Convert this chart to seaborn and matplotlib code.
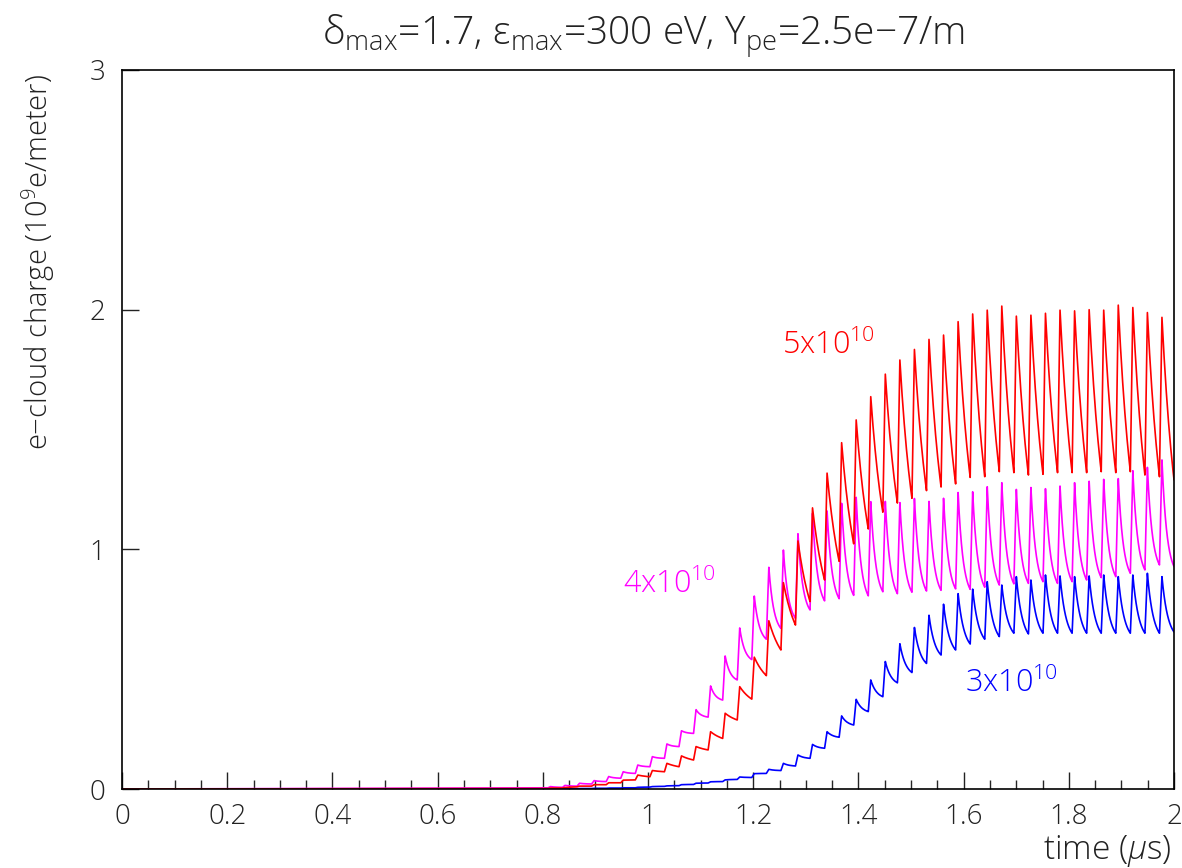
import numpy as np
import pandas as pd
import matplotlib
matplotlib.use("Agg")
import matplotlib.pyplot as plt
import seaborn as sns
from matplotlib.ticker import MultipleLocator, FuncFormatter

# bunch train: first stored bunch index, bunch time of bunch 0 and spacing (us)
first_bunch = 29
t_first = 0.0118
bunch_dt = 0.02768

# peak value right after each bunch passage and trough value just before it (1e9 e/m)
red_peaks = [0.004, 0.006, 0.012, 0.018, 0.026, 0.037, 0.058, 0.077, 0.107, 0.138,
             0.177, 0.239, 0.316, 0.427, 0.550, 0.702, 0.861, 1.035, 1.173, 1.318,
             1.445, 1.540, 1.637, 1.731, 1.790, 1.834, 1.876, 1.894, 1.950, 1.982,
             1.998, 2.015, 1.973, 1.977, 1.985, 1.998, 1.995, 2.000, 1.998, 2.019,
             2.009, 1.988, 1.968]
red_troughs = [0.002, 0.004, 0.009, 0.012, 0.018, 0.026, 0.038, 0.051, 0.072, 0.093,
               0.121, 0.163, 0.211, 0.288, 0.375, 0.473, 0.580, 0.684, 0.782, 0.872,
               0.950, 1.023, 1.085, 1.155, 1.193, 1.213, 1.245, 1.260, 1.273, 1.300,
               1.303, 1.324, 1.320, 1.310, 1.313, 1.320, 1.320, 1.320, 1.324, 1.320,
               1.324, 1.310, 1.303, 1.290]

mag_peaks = [0.010, 0.015, 0.024, 0.035, 0.052, 0.072, 0.100, 0.135, 0.188, 0.243,
             0.331, 0.430, 0.555, 0.672, 0.805, 0.925, 0.997, 1.065, 1.150, 1.160,
             1.192, 1.217, 1.199, 1.200, 1.195, 1.212, 1.200, 1.213, 1.237, 1.240,
             1.261, 1.278, 1.250, 1.258, 1.253, 1.264, 1.278, 1.284, 1.292, 1.295,
             1.328, 1.342, 1.373]
mag_troughs = [0.005, 0.007, 0.012, 0.021, 0.031, 0.045, 0.065, 0.093, 0.128, 0.177,
               0.232, 0.300, 0.371, 0.455, 0.540, 0.625, 0.670, 0.712, 0.747, 0.785,
               0.794, 0.808, 0.806, 0.823, 0.815, 0.821, 0.826, 0.829, 0.835, 0.833,
               0.842, 0.851, 0.856, 0.858, 0.865, 0.858, 0.865, 0.872, 0.882, 0.886,
               0.900, 0.914, 0.935, 0.928]

blue_peaks = [0.001, 0.001, 0.002, 0.003, 0.004, 0.005, 0.007, 0.010, 0.013, 0.018,
              0.024, 0.030, 0.038, 0.050, 0.064, 0.082, 0.107, 0.142, 0.186, 0.239,
              0.305, 0.374, 0.455, 0.532, 0.606, 0.674, 0.725, 0.771, 0.815, 0.834,
              0.865, 0.851, 0.886, 0.872, 0.893, 0.889, 0.886, 0.889, 0.893, 0.886,
              0.893, 0.900, 0.886]
blue_troughs = [0.000, 0.001, 0.001, 0.002, 0.003, 0.004, 0.005, 0.008, 0.011, 0.014,
                0.019, 0.025, 0.031, 0.040, 0.048, 0.065, 0.077, 0.096, 0.128, 0.170,
                0.216, 0.267, 0.323, 0.385, 0.443, 0.486, 0.524, 0.559, 0.580, 0.605,
                0.625, 0.636, 0.650, 0.647, 0.650, 0.650, 0.650, 0.650, 0.650, 0.650,
                0.650, 0.650, 0.650, 0.655]

series_names = ["3x10^10", "4x10^10", "5x10^10"]
series_colors = {"3x10^10": "#0000ff", "4x10^10": "#ff00ff", "5x10^10": "#ff0000"}
decay_tau = {"3x10^10": 0.5, "4x10^10": 0.42, "5x10^10": 1.2}
rise = 0.17  # fraction of bunch spacing


def sawtooth(peaks, troughs, tau):
    # jump up at each bunch, then decay towards the next trough
    t = [0.0]
    v = [0.0]
    s = np.linspace(0, 1, 12)[1:-1]
    shape = (np.exp(-s / tau) - np.exp(-1 / tau)) / (1 - np.exp(-1 / tau))
    for i, pk in enumerate(peaks):
        tb = t_first + (first_bunch + i) * bunch_dt
        t.append(tb - rise * bunch_dt)
        v.append(troughs[i])
        t.append(tb)
        v.append(pk)
        t_end = tb + (1 - rise) * bunch_dt
        t.extend(tb + s * (t_end - tb))
        v.extend(troughs[i + 1] + (pk - troughs[i + 1]) * shape)
    t.append(tb + (1 - rise) * bunch_dt)
    v.append(troughs[-1])
    return t, v


frames = []
for name, pk, tr in [("3x10^10", blue_peaks, blue_troughs),
                     ("4x10^10", mag_peaks, mag_troughs),
                     ("5x10^10", red_peaks, red_troughs)]:
    t, v = sawtooth(pk, tr, decay_tau[name])
    frames.append(pd.DataFrame({"time": t, "charge": v, "beam": name}))
df = pd.concat(frames, ignore_index=True)

sns.set_style("ticks")
plt.rcParams['font.family'] = ['Open Sans', 'DejaVu Sans']
plt.rcParams['font.weight'] = 'light'
plt.rcParams['mathtext.fontset'] = 'custom'
plt.rcParams['mathtext.rm'] = 'Open Sans:light'
plt.rcParams['mathtext.it'] = 'Open Sans:italic:light'
plt.rcParams['mathtext.default'] = 'rm'

fig = plt.figure(figsize=(11.82, 8.68), dpi=100)
ax = fig.add_axes([122 / 1182, 1 - 789 / 868, 1052 / 1182, 719 / 868])

sns.lineplot(data=df, x="time", y="charge", hue="beam", palette=series_colors,
             hue_order=series_names, sort=False, estimator=None, linewidth=1.2,
             legend=False, ax=ax)

ax.set_xlim(0, 2)
ax.set_ylim(0, 3)
ax.xaxis.set_major_locator(MultipleLocator(0.2))
ax.xaxis.set_minor_locator(MultipleLocator(0.05))
ax.yaxis.set_major_locator(MultipleLocator(1))
ax.xaxis.set_major_formatter(FuncFormatter(lambda x, p: f"{x:g}"))
ax.yaxis.set_major_formatter(FuncFormatter(lambda x, p: f"{x:g}"))
ax.tick_params(axis="x", which="major", direction="in", length=12, width=1,
               labelsize=20, pad=10, colors="#222222")
ax.tick_params(axis="x", which="minor", direction="in", length=6.5, width=1)
ax.tick_params(axis="y", which="major", direction="in", length=12, width=1,
               labelsize=20, pad=12, colors="#222222")
for sp in ax.spines.values():
    sp.set_visible(True)
    sp.set_linewidth(1.2)
    sp.set_color("black")
ax.set_xlabel("")
ax.set_ylabel("")

fig.text(1172 / 1182, 1 - 859 / 868, r"time ($\mathit{\mu}$s)", ha="right", va="baseline",
         fontsize=24, color="#222222")
fig.text(38 / 1182, 1 - 74 / 868, r"e$-$cloud charge (10$^{9}$e/meter)", rotation=90,
         ha="center", va="top", fontsize=21, color="#222222")
fig.text(643 / 1182, 1 - 36 / 868,
         r"$\delta_{max}$=1.7, $\varepsilon_{max}$=300 eV, Y$_{pe}$=2.5e$-$7/m",
         ha="center", va="center", fontsize=28, color="#222222")

ax.text(1.255, 1.85, r"5x10$^{10}$", color="#ff0000", fontsize=22, va="center")
ax.text(0.952, 0.85, r"4x10$^{10}$", color="#ff00ff", fontsize=22, va="center")
ax.text(1.603, 0.44, r"3x10$^{10}$", color="#0000ff", fontsize=22, va="center")

fig.savefig("out.png", dpi=100)
